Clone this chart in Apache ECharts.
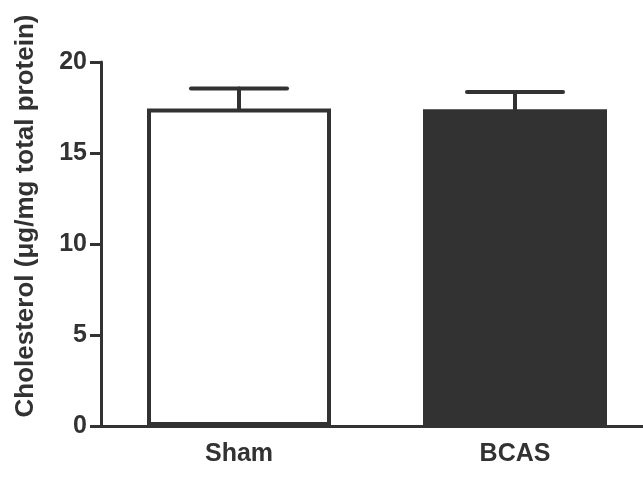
<!DOCTYPE html>
<html>
<head>
<meta charset="utf-8">
<script src="https://cdn.jsdelivr.net/npm/echarts@6/dist/echarts.min.js"></script>
<style>
html,body{margin:0;padding:0;background:#fff;}
#chart{width:643px;height:477px;}
</style>
</head>
<body>
<div id="chart"></div>
<script>
var categories = ['Sham', 'BCAS'];
var means = [17.45, 17.4];
var errors = [1.1, 0.95];
var yTicks = [0, 5, 10, 15, 20];

var ink = '#333233';
var font = '"Liberation Sans", Arial, sans-serif';

var chart = echarts.init(document.getElementById('chart'));
chart.setOption({
  animation: false,
  grid: { left: 101, top: 62, bottom: 51, width: 552, outerBoundsMode: 'none', containLabel: false },
  xAxis: {
    type: 'category',
    data: categories,
    axisLine: { lineStyle: { color: ink, width: 3 } },
    axisTick: { alignWithLabel: true, length: 11, lineStyle: { color: ink, width: 3 } },
    axisLabel: { margin: 16, color: ink, fontSize: 25, fontWeight: 'bold', fontFamily: font }
  },
  yAxis: {
    type: 'value',
    min: yTicks[0],
    max: yTicks[yTicks.length - 1],
    interval: 5,
    name: 'Cholesterol (\u03bcg/mg total protein)',
    nameLocation: 'middle',
    nameGap: 62,
    nameTextStyle: { color: ink, fontSize: 26, fontWeight: 'bold', fontFamily: font, padding: [0, 0, 0, 56] },
    axisLine: { show: true, lineStyle: { color: ink, width: 3 } },
    axisTick: { show: true, length: 11, lineStyle: { color: ink, width: 3 } },
    axisLabel: { margin: 14, color: ink, fontSize: 25, fontWeight: 'bold', fontFamily: font },
    splitLine: { show: false }
  },
  series: [
    {
      type: 'bar',
      barWidth: 184,
      data: means.map(function (v, i) {
        return {
          value: v,
          itemStyle: { color: i === 0 ? '#ffffff' : ink, borderColor: ink, borderWidth: 4 }
        };
      }),
      z: 2
    },
    {
      type: 'custom',
      z: 3,
      data: means.map(function (v, i) { return [i, v, v + errors[i]]; }),
      renderItem: function (params, api) {
        var base = api.coord([api.value(0), api.value(1)]);
        var top = api.coord([api.value(0), api.value(2)]);
        var half = api.size([1, 0])[0] * 0.174;
        var st = { stroke: ink, lineWidth: 4, lineCap: 'round' };
        return {
          type: 'group',
          children: [
            { type: 'line', shape: { x1: base[0], y1: base[1], x2: top[0], y2: top[1] }, style: st },
            { type: 'line', shape: { x1: top[0] - half, y1: top[1], x2: top[0] + half, y2: top[1] }, style: st }
          ]
        };
      }
    }
  ]
});
</script>
</body>
</html>
